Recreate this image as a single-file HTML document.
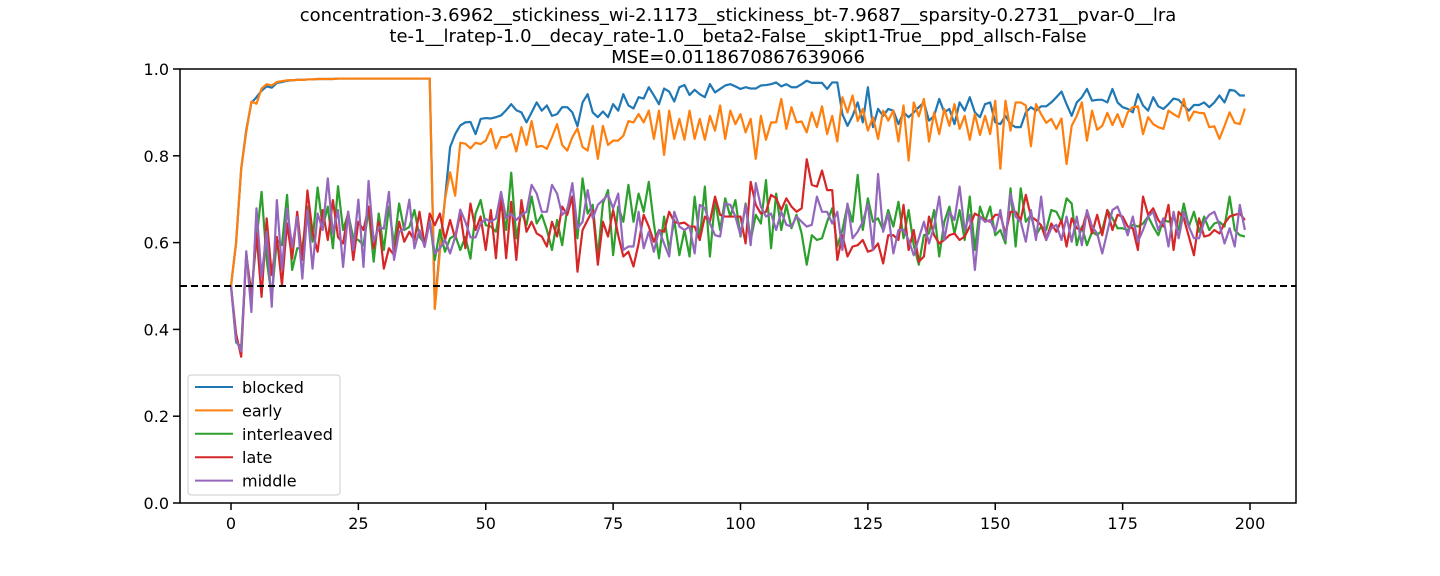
<!DOCTYPE html>
<html><head><meta charset="utf-8"><style>
body{margin:0;background:#fff;}
svg{display:block;font-family:"DejaVu Sans","Liberation Sans",sans-serif;}
</style></head><body>
<svg id="chart" width="1440" height="576" viewBox="0 0 1440 576" xmlns="http://www.w3.org/2000/svg">
<rect width="1440" height="576" fill="#fff"/>
<g font-size="18" text-anchor="middle" fill="#000">
<text x="738" y="21">concentration-3.6962__stickiness_wi-2.1173__stickiness_bt-7.9687__sparsity-0.2731__pvar-0__lra</text>
<text x="738" y="42">te-1__lratep-1.0__decay_rate-1.0__beta2-False__skipt1-True__ppd_allsch-False</text>
<text x="738" y="63">MSE=0.0118670867639066</text>
</g>
<g id="ticks"></g>
<g id="series"></g>
<line id="ref" stroke="#000" stroke-width="2" stroke-dasharray="7,4"/>
<rect x="180" y="69" width="1116" height="434" fill="none" stroke="#000" stroke-width="1.5"/>
<g id="legend"></g>
</svg>
<script>
const xTicks=[0,25,50,75,100,125,150,175,200];
const yTicks=[0.0,0.2,0.4,0.6,0.8,1.0];
const seriesNames=["blocked","early","interleaved","late","middle"];
const seriesColors=["#1f77b4","#ff7f0e","#2ca02c","#d62728","#9467bd"];
const refValue=0.5;
const blocked=[.50,.60,.77,.86,.922,.935,.95,.96,.957,.968,.97,.973,.974,.975,.975,.976,.976,.977,.977,.977,.977,.978,.978,.978,.978,.978,.978,.978,.978,.978,.978,.978,.978,.978,.978,.978,.978,.978,.978,.978,.45,.59,.70,.82,.85,.87,.877,.878,.85,
.885,.887,.886,.889,.893,.905,.919,.905,.9,.877,.9,.923,.904,.916,.892,.896,.912,.912,.9,.868,.923,.942,.9,.889,.902,.889,.919,.904,.942,.916,.909,.935,.932,.958,.939,.919,.955,.948,.925,.958,.963,.94,.952,.942,.935,.965,.946,.954,.962,.965,.96,.954,.958,.955,.955,.962,.963,.965,.969,.96,.965,.958,.958,.965,.973,.968,.968,.968,.954,.969,.969,.896,.869,.892,.923,.877,.958,.866,.908,
.892,.908,.904,.873,.9,.889,.9,.912,.923,.881,.892,.931,.9,.908,.873,.923,.904,.935,.9,.889,.919,.923,.877,.873,.892,.873,.866,.866,.9,.912,.904,.914,.914,.923,.935,.948,.919,.892,.923,.935,.954,.927,.929,.929,.923,.954,.923,.912,.908,.9,.942,.916,.904,.935,.914,.908,.919,.932,.929,.916,.904,.917,.917,.923,.912,.923,.939,.923,.952,.95,.939,.939];
const early=[.50,.60,.77,.855,.925,.92,.955,.965,.962,.97,.972,.974,.974,.975,.975,.976,.976,.977,.977,.977,.977,.978,.978,.978,.978,.978,.978,.978,.978,.978,.978,.978,.978,.978,.978,.978,.978,.978,.978,.978,.447,.58,.70,.762,.708,.83,.828,.817,.83,
.827,.835,.862,.817,.843,.843,.85,.81,.866,.825,.88,.82,.823,.816,.843,.873,.825,.812,.843,.863,.82,.812,.869,.793,.869,.825,.835,.835,.846,.88,.877,.896,.877,.904,.839,.904,.802,.904,.839,.885,.837,.904,.839,.885,.837,.892,.858,.916,.839,.904,.873,.896,.854,.885,.793,.892,.837,.877,.877,.931,.862,.912,.877,.879,.854,.9,.866,.914,.85,.892,.833,.935,.9,.939,.88,.908,.858,.889,.839,
.904,.881,.904,.833,.916,.789,.923,.891,.931,.833,.9,.85,.908,.869,.919,.862,.892,.837,.896,.848,.892,.85,.927,.77,.927,.858,.923,.923,.916,.822,.919,.896,.876,.885,.862,.886,.781,.869,.892,.923,.835,.904,.86,.869,.899,.871,.896,.866,.9,.912,.914,.85,.889,.873,.866,.862,.904,.896,.889,.931,.881,.902,.899,.898,.866,.868,.839,.869,.9,.876,.873,.909];
const interleaved=[.50,.37,.36,.571,.483,.606,.717,.56,.475,.606,.594,.71,.537,.587,.587,.683,.602,.727,.636,.683,.587,.73,.629,.667,.61,.606,.594,.675,.556,.667,.583,.683,.594,.69,.629,.636,.675,.613,.598,.652,.56,.629,.579,.61,.617,.583,.613,.563,.667,
.698,.64,.637,.625,.69,.629,.761,.61,.671,.64,.706,.644,.664,.629,.583,.652,.594,.679,.706,.61,.748,.667,.687,.568,.69,.721,.571,.683,.648,.733,.648,.713,.671,.74,.644,.564,.66,.583,.652,.571,.629,.568,.706,.606,.729,.568,.698,.629,.702,.66,
.698,.614,.69,.606,.664,.644,.744,.587,.713,.629,.687,.633,.664,.621,.549,.617,.606,.61,.648,.679,.591,.629,.687,.648,.756,.629,.702,.648,.656,.629,.675,.637,.694,.61,.675,.594,.549,.617,.621,.675,.568,.648,.683,.621,.675,.606,.706,.583,.683,.648,
.683,.617,.629,.598,.725,.591,.725,.648,.664,.617,.637,.629,.675,.671,.648,.702,.69,.594,.637,.594,.625,.617,.629,.675,.656,.633,.633,.629,.641,.637,.644,.66,.637,.617,.652,.648,.66,.629,.69,.637,.671,.625,.66,.629,.644,.648,.637,.706,.629,.617,.614];
const late=[.50,.39,.337,.575,.475,.621,.475,.656,.525,.613,.502,.644,.563,.671,.56,.72,.625,.579,.675,.606,.698,.613,.598,.671,.56,.648,.629,.683,.587,.648,.54,.587,.571,.648,.602,.625,.606,.671,.594,.667,.64,.667,.606,.652,.61,.667,.587,.69,.629,
.66,.583,.675,.564,.71,.564,.694,.56,.698,.625,.648,.621,.614,.591,.648,.614,.683,.664,.706,.533,.629,.652,.675,.549,.648,.614,.675,.617,.568,.579,.545,.598,.664,.637,.602,.629,.625,.671,.648,.644,.646,.637,.637,.606,.66,.648,.706,.664,.66,.66,
.66,.66,.598,.74,.687,.667,.671,.71,.702,.675,.702,.683,.671,.679,.792,.733,.729,.766,.721,.721,.56,.617,.568,.591,.594,.606,.579,.583,.598,.552,.617,.617,.606,.687,.583,.629,.556,.568,.66,.617,.598,.606,.617,.621,.606,.614,.637,.667,.66,.652,.648,
.664,.664,.621,.671,.671,.652,.71,.66,.652,.64,.606,.644,.625,.652,.591,.656,.633,.629,.671,.621,.664,.617,.675,.629,.664,.66,.637,.633,.583,.706,.664,.679,.652,.637,.687,.583,.671,.656,.614,.571,.656,.614,.617,.629,.621,.644,.66,.664,.667,.652];
const middle=[.50,.375,.35,.58,.44,.679,.521,.625,.452,.698,.537,.679,.59,.659,.517,.675,.54,.667,.629,.748,.621,.675,.544,.671,.583,.699,.544,.742,.602,.636,.632,.717,.56,.625,.632,.699,.587,.629,.59,.648,.575,.587,.606,.575,.613,.676,.648,.612,.612,.644,
.654,.648,.656,.717,.656,.667,.652,.664,.671,.733,.713,.671,.671,.733,.713,.664,.675,.737,.633,.648,.721,.656,.687,.698,.71,.679,.713,.583,.591,.591,.671,.587,.625,.579,.629,.598,.568,.671,.637,.629,.637,.575,.687,.679,.644,.617,.614,.69,.687,
.66,.617,.687,.594,.737,.683,.66,.667,.629,.671,.641,.637,.66,.648,.637,.641,.706,.671,.671,.644,.671,.583,.69,.61,.625,.648,.69,.583,.758,.625,.667,.575,.629,.629,.606,.571,.61,.648,.598,.637,.706,.606,.671,.652,.729,.629,.664,.537,.66,.648,.652,
.625,.675,.606,.713,.66,.648,.602,.675,.606,.706,.606,.633,.641,.606,.66,.602,.66,.594,.675,.637,.621,.575,.625,.675,.683,.652,.617,.66,.602,.629,.66,.671,.629,.656,.591,.671,.61,.671,.637,.61,.61,.648,.664,.671,.641,.598,.633,.591,.687,.629];
const allSeries=[blocked,early,interleaved,late,middle];

const X0=180,X1=1296,Y0=69,Y1=503;
const xScale=u=>231+(1250-231)*u/200;
const yScale=v=>Y1-(Y1-Y0)*v;
const NS="http://www.w3.org/2000/svg";
function mk(tag,attrs,parent){const e=document.createElementNS(NS,tag);for(const k in attrs)e.setAttribute(k,attrs[k]);parent.appendChild(e);return e;}

const tg=document.getElementById('ticks');
xTicks.forEach(t=>{
  const l=mk('line',{x1:xScale(t),x2:xScale(t),y1:Y1,y2:Y1+7,stroke:'#000','stroke-width':1.5},tg);
  
  
  const tx=mk('text',{x:xScale(t),y:Y1+26,'text-anchor':'middle','font-size':16},tg);
  tx.textContent=String(t);
  
  
});
yTicks.forEach(t=>{
  const l=mk('line',{x1:X0-7,x2:X0,y1:yScale(t),y2:yScale(t),stroke:'#000','stroke-width':1.5},tg);
  
  
  const tx=mk('text',{x:X0-11,y:yScale(t)+6,'text-anchor':'end','font-size':16},tg);
  tx.textContent=t.toFixed(1);
  
  
});

const sg=document.getElementById('series');
allSeries.forEach((arr,i)=>{
  const d=arr.map((v,k)=>(k?'L':'M')+xScale(k).toFixed(2)+' '+yScale(v).toFixed(2)).join(' ');
  const p=mk('path',{d:d,fill:'none',stroke:seriesColors[i],'stroke-width':2.2,'stroke-linejoin':'round'},sg);
  
  
});

const ref=document.getElementById('ref');
ref.setAttribute('x1',X0);ref.setAttribute('x2',X1);
ref.setAttribute('y1',yScale(refValue));ref.setAttribute('y2',yScale(refValue));

const lg=document.getElementById('legend');
const box=mk('rect',{x:188,y:375,width:152,height:120,rx:3,fill:'#fff','fill-opacity':0.8,stroke:'#ccc','stroke-width':1},lg);


seriesNames.forEach((n,i)=>{
  const y=387+i*23.4;
  const g=mk('g',{},lg);
  
  
  mk('line',{x1:195,x2:233,y1:y,y2:y,stroke:seriesColors[i],'stroke-width':2},g);
  const t=mk('text',{x:242,y:y+6,'font-size':16},g);
  t.textContent=n;
});
</script>
</body></html>
